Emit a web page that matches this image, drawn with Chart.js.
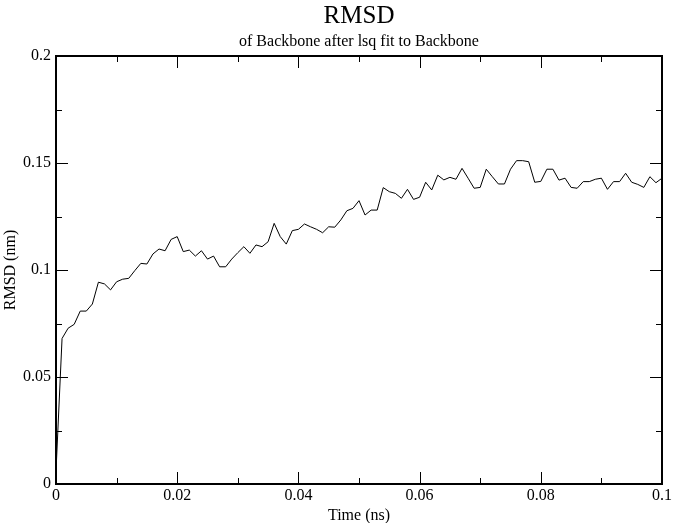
<!DOCTYPE html>
<html>
<head>
<meta charset="utf-8">
<script src="https://cdn.jsdelivr.net/npm/chart.js@4.4.0/dist/chart.umd.min.js"></script>
<style>
  html, body { margin: 0; padding: 0; background: #fff; }
</style>
</head>
<body>
<canvas id="rmsdChart" width="674" height="523"></canvas>
<script>
// time axis (ns), one frame per ps
const timeNs = [
  0.000, 0.001, 0.002, 0.003, 0.004, 0.005, 0.006, 0.007, 0.008, 0.009,
  0.010, 0.011, 0.012, 0.013, 0.014, 0.015, 0.016, 0.017, 0.018, 0.019,
  0.020, 0.021, 0.022, 0.023, 0.024, 0.025, 0.026, 0.027, 0.028, 0.029,
  0.030, 0.031, 0.032, 0.033, 0.034, 0.035, 0.036, 0.037, 0.038, 0.039,
  0.040, 0.041, 0.042, 0.043, 0.044, 0.045, 0.046, 0.047, 0.048, 0.049,
  0.050, 0.051, 0.052, 0.053, 0.054, 0.055, 0.056, 0.057, 0.058, 0.059,
  0.060, 0.061, 0.062, 0.063, 0.064, 0.065, 0.066, 0.067, 0.068, 0.069,
  0.070, 0.071, 0.072, 0.073, 0.074, 0.075, 0.076, 0.077, 0.078, 0.079,
  0.080, 0.081, 0.082, 0.083, 0.084, 0.085, 0.086, 0.087, 0.088, 0.089,
  0.090, 0.091, 0.092, 0.093, 0.094, 0.095, 0.096, 0.097, 0.098, 0.099,
  0.100
];

// backbone RMSD (nm)
const rmsdNm = [
  0.0060, 0.0680, 0.0728, 0.0746, 0.0808, 0.0808, 0.0841, 0.0943, 0.0935, 0.0907,
  0.0945, 0.0957, 0.0961, 0.0997, 0.1031, 0.1028, 0.1075, 0.1098, 0.1090, 0.1143,
  0.1156, 0.1086, 0.1093, 0.1065, 0.1090, 0.1051, 0.1065, 0.1015, 0.1015, 0.1051,
  0.1081, 0.1109, 0.1078, 0.1117, 0.1109, 0.1132, 0.1218, 0.1156, 0.1121, 0.1184,
  0.1190, 0.1215, 0.1202, 0.1190, 0.1174, 0.1202, 0.1200, 0.1234, 0.1277, 0.1288,
  0.1324, 0.1257, 0.1280, 0.1280, 0.1385, 0.1366, 0.1358, 0.1335, 0.1377, 0.1330,
  0.1340, 0.1410, 0.1374, 0.1443, 0.1421, 0.1433, 0.1424, 0.1475, 0.1429, 0.1382,
  0.1386, 0.1471, 0.1436, 0.1402, 0.1402, 0.1471, 0.1511, 0.1511, 0.1506, 0.1410,
  0.1414, 0.1471, 0.1471, 0.1420, 0.1429, 0.1386, 0.1382, 0.1413, 0.1413, 0.1424,
  0.1429, 0.1377, 0.1413, 0.1413, 0.1452, 0.1410, 0.1400, 0.1386, 0.1436, 0.1408,
  0.1429
];

const xMajorTicks = [0, 0.02, 0.04, 0.06, 0.08, 0.1];
const xMinorTicks = [0.01, 0.03, 0.05, 0.07, 0.09];
const xTickLabels = ['0', '0.02', '0.04', '0.06', '0.08', '0.1'];
const yMajorTicks = [0, 0.05, 0.1, 0.15, 0.2];
const yMinorTicks = [0.025, 0.075, 0.125, 0.175];
const yTickLabels = ['0', '0.05', '0.1', '0.15', '0.2'];

const serif = 'Liberation Serif';

// grace style: box frame with inward ticks on all four sides, titles over plot
const graceFrame = {
  id: 'graceFrame',
  afterDatasetsDraw(chart) {
    const { ctx, chartArea: a, scales: { x, y } } = chart;
    ctx.save();
    ctx.strokeStyle = '#000';
    ctx.lineWidth = 1;
    ctx.beginPath();
    const xTick = (v, len) => {
      const px = Math.round(x.getPixelForValue(v)) + 0.5;
      ctx.moveTo(px, a.bottom); ctx.lineTo(px, a.bottom - len);
      ctx.moveTo(px, a.top); ctx.lineTo(px, a.top + len);
    };
    const yTick = (v, len) => {
      const py = Math.round(y.getPixelForValue(v)) + 0.5;
      ctx.moveTo(a.left, py); ctx.lineTo(a.left + len, py);
      ctx.moveTo(a.right, py); ctx.lineTo(a.right - len, py);
    };
    xMajorTicks.forEach(v => xTick(v, 12));
    xMinorTicks.forEach(v => xTick(v, 6));
    yMajorTicks.forEach(v => yTick(v, 12));
    yMinorTicks.forEach(v => yTick(v, 6));
    ctx.stroke();
    ctx.lineWidth = 2;
    ctx.strokeRect(a.left, a.top, a.right - a.left, a.bottom - a.top);

    const cx = (a.left + a.right) / 2;
    ctx.fillStyle = '#000';
    ctx.textAlign = 'center';
    ctx.textBaseline = 'alphabetic';
    ctx.font = '25px "' + serif + '"';
    ctx.fillText('RMSD', cx, 23);
    ctx.font = '16px "' + serif + '"';
    ctx.fillText('of Backbone after lsq fit to Backbone', cx, 46);
    ctx.restore();
  }
};

new Chart(document.getElementById('rmsdChart'), {
  type: 'line',
  data: {
    datasets: [{
      data: timeNs.map((t, i) => ({ x: t, y: rmsdNm[i] })),
      borderColor: '#000',
      borderWidth: 1,
      pointRadius: 0,
      tension: 0,
      fill: false
    }]
  },
  options: {
    responsive: false,
    animation: false,
    devicePixelRatio: 1,
    layout: { padding: { top: 56, right: 11, left: 0, bottom: 0 } },
    plugins: { legend: { display: false }, tooltip: { enabled: false } },
    scales: {
      x: {
        type: 'linear',
        min: 0,
        max: 0.1,
        afterBuildTicks: s => { s.ticks = xMajorTicks.map(v => ({ value: v })); },
        afterFit: s => { s.height = 39; },
        grid: { display: false, drawTicks: false },
        border: { display: false },
        ticks: {
          color: '#000',
          font: { family: serif, size: 16 },
          padding: 2,
          maxRotation: 0,
          autoSkip: false,
          callback: (v, i) => xTickLabels[i]
        },
        title: {
          display: true,
          text: 'Time (ns)',
          color: '#000',
          font: { family: serif, size: 16 },
          padding: { top: 0, bottom: -2 }
        }
      },
      y: {
        min: 0,
        max: 0.2,
        afterBuildTicks: s => { s.ticks = yMajorTicks.map(v => ({ value: v })); },
        afterFit: s => { s.width = 56; },
        grid: { display: false, drawTicks: false },
        border: { display: false },
        ticks: {
          color: '#000',
          font: { family: serif, size: 16 },
          padding: 5,
          autoSkip: false,
          callback: (v, i) => yTickLabels[i]
        },
        title: {
          display: true,
          text: 'RMSD (nm)',
          color: '#000',
          font: { family: serif, size: 16 },
          padding: { top: 1, bottom: 0 }
        }
      }
    }
  },
  plugins: [graceFrame]
});
</script>
</body>
</html>
